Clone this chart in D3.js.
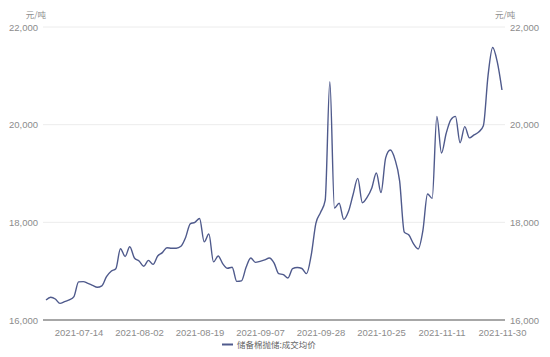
<!DOCTYPE html>
<html>
<head>
<meta charset="utf-8">
<script src="https://cdn.jsdelivr.net/npm/d3@7"></script>
<style>
  html, body { margin: 0; padding: 0; background: #fff; }
  svg { display: block; font-family: "Liberation Sans", Arial, "Noto Sans CJK SC", sans-serif; }
</style>
</head>
<body>
<svg id="chart" width="550" height="357"></svg>
<script>
const dates = [
  "2021-07-05","2021-07-06","2021-07-07","2021-07-08","2021-07-09","2021-07-12","2021-07-13","2021-07-14","2021-07-15","2021-07-16",
  "2021-07-19","2021-07-20","2021-07-21","2021-07-22","2021-07-23","2021-07-26","2021-07-27","2021-07-28","2021-07-29","2021-07-30",
  "2021-08-02","2021-08-03","2021-08-04","2021-08-05","2021-08-06","2021-08-09","2021-08-10","2021-08-11","2021-08-12","2021-08-13",
  "2021-08-16","2021-08-17","2021-08-18","2021-08-19","2021-08-20","2021-08-23","2021-08-24","2021-08-25","2021-08-26","2021-08-27",
  "2021-08-30","2021-08-31","2021-09-01","2021-09-02","2021-09-03","2021-09-06","2021-09-07","2021-09-08","2021-09-09","2021-09-10",
  "2021-09-13","2021-09-14","2021-09-15","2021-09-16","2021-09-17","2021-09-22","2021-09-23","2021-09-24","2021-09-27","2021-09-28",
  "2021-09-29","2021-09-30","2021-10-11","2021-10-12","2021-10-13","2021-10-14","2021-10-15","2021-10-18","2021-10-19","2021-10-20",
  "2021-10-21","2021-10-22","2021-10-25","2021-10-26","2021-10-27","2021-10-28","2021-10-29","2021-11-01","2021-11-02","2021-11-03",
  "2021-11-04","2021-11-05","2021-11-08","2021-11-09","2021-11-10","2021-11-11","2021-11-12","2021-11-15","2021-11-16","2021-11-17",
  "2021-11-18","2021-11-19","2021-11-22","2021-11-23","2021-11-24","2021-11-25","2021-11-26","2021-11-29","2021-11-30"
];
const prices = [
  16410,16465,16430,16340,16375,16410,16480,16780,16785,16750,
  16710,16670,16700,16890,17000,17050,17460,17300,17500,17270,
  17210,17100,17220,17140,17310,17380,17480,17470,17470,17510,
  17690,17970,18000,18080,17600,17760,17190,17310,17150,17060,
  17080,16790,16800,17080,17270,17180,17200,17230,17270,17170,
  16950,16930,16860,17050,17075,17055,16950,17330,17980,18200,
  18450,20880,18290,18390,18060,18220,18570,18900,18400,18510,
  18700,19010,18610,19320,19480,19290,18850,17800,17740,17560,
  17455,17830,18580,18490,20170,19420,19820,20100,20170,19630,
  19960,19730,19790,19850,19980,21000,21580,21280,20710
];
const xTickLabels = ["2021-07-14","2021-08-02","2021-08-19","2021-09-07","2021-09-28","2021-10-25","2021-11-11","2021-11-30"];
const yTicks = [16000, 18000, 20000, 22000];
const seriesName = "储备棉抛储:成交均价";
const unitLabel = "元/吨";

(function () {
const svg = d3.select("#chart");
const pLeft = 43, pRight = 505, pTop = 27, pBottom = 320;
const lineColor = "#4f5a8c";
const textColor = "#8c8c8c";

const x = d3.scalePoint().domain(dates).range([pLeft, pRight]).padding(0.65);
const y = d3.scaleLinear().domain([16000, 22000]).range([pBottom, pTop]);

// grid lines
svg.append("g").selectAll("line")
  .data(yTicks.filter(d => d !== 16000))
  .join("line")
  .attr("x1", pLeft).attr("x2", pRight)
  .attr("y1", d => y(d)).attr("y2", d => y(d))
  .attr("stroke", "#ececec").attr("stroke-width", 1);

// left axis
const yl = svg.append("g").attr("transform", `translate(${pLeft - 5},0)`)
  .call(d3.axisLeft(y).tickValues(yTicks).tickFormat(d3.format(",")).tickSize(0).tickPadding(0));
yl.select(".domain").remove();
yl.selectAll("text").attr("fill", textColor).attr("font-size", 9.5);

// right axis
const yr = svg.append("g").attr("transform", `translate(${pRight + 5},0)`)
  .call(d3.axisRight(y).tickValues(yTicks).tickFormat(d3.format(",")).tickSize(0).tickPadding(0));
yr.select(".domain").remove();
yr.selectAll("text").attr("fill", textColor).attr("font-size", 9.5);

// unit labels
svg.append("text").attr("x", 46).attr("y", 18).attr("text-anchor", "end")
  .attr("fill", textColor).attr("font-size", 8.5)
  .attr("font-family", "'Noto Sans CJK SC', sans-serif").text(unitLabel);
svg.append("text").attr("x", 495).attr("y", 18).attr("text-anchor", "start")
  .attr("fill", textColor).attr("font-size", 8.5)
  .attr("font-family", "'Noto Sans CJK SC', sans-serif").text(unitLabel);

// bottom axis
const xa = svg.append("g").attr("transform", `translate(0,${pBottom})`)
  .call(d3.axisBottom(x).tickValues(xTickLabels).tickSize(0).tickPadding(9));
xa.select(".domain").attr("stroke", "#8a8a8a").attr("stroke-width", 1.5)
  .attr("d", `M${pLeft},0H${pRight}`);
xa.selectAll("text").attr("fill", textColor).attr("font-size", 9.5);

// line
const line = d3.line()
  .x((d, i) => x(dates[i]))
  .y(d => y(d))
  .curve(d3.curveMonotoneX);
svg.append("path").datum(prices)
  .attr("fill", "none").attr("stroke", lineColor).attr("stroke-width", 1.4)
  .attr("stroke-linejoin", "round")
  .attr("d", line);

// legend
const lg = svg.append("g");
lg.append("line").attr("x1", 222).attr("x2", 233).attr("y1", 344.5).attr("y2", 344.5)
  .attr("stroke", lineColor).attr("stroke-width", 2);
lg.append("text").attr("x", 237).attr("y", 348)
  .attr("fill", "#666").attr("font-size", 8.5)
  .attr("font-family", "'Noto Sans CJK SC', sans-serif").text(seriesName);
})();
</script>
</body>
</html>
